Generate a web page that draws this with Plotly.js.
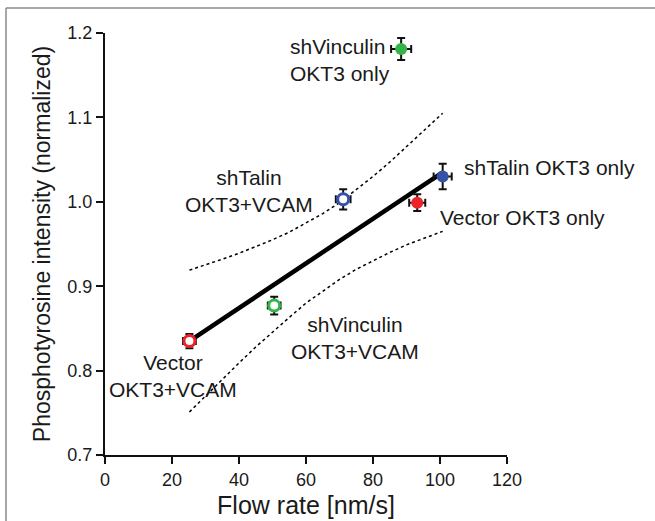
<!DOCTYPE html>
<html>
<head>
<meta charset="utf-8">
<script src="https://cdn.plot.ly/plotly-3.0.1.min.js"></script>
<style>html,body{margin:0;padding:0;background:#fff;}#chart{width:655px;height:521px;}</style>
</head>
<body>
<div id="chart"></div>
<script>
// Data points
const labels = ["shVinculin OKT3 only", "shTalin OKT3 only", "Vector OKT3 only", "shTalin OKT3+VCAM", "shVinculin OKT3+VCAM", "Vector OKT3+VCAM"];
const labelText = ["shVinculin<br>OKT3 only", "shTalin OKT3 only", "Vector OKT3 only", "shTalin<br>OKT3+VCAM", "shVinculin<br>OKT3+VCAM", "Vector<br>OKT3+VCAM"];
const flowRate = [88.4, 100.8, 93.2, 71.1, 50.5, 25.2];
const flowErr = [3.0, 2.7, 2.4, 2.2, 1.9, 1.9];
const intensity = [1.181, 1.030, 0.999, 1.003, 0.877, 0.835];
const intensityErr = [0.013, 0.015, 0.010, 0.012, 0.0105, 0.0085];
const pointColors = ["#33b54a", "#3552a8", "#ec2228", "#3552a8", "#33b54a", "#ec2228"];
const isOpen = [false, false, false, true, true, true];

// Regression line (end points)
const fitX = [25.2, 100.8];
const fitY = [0.835, 1.035];

// 95% confidence band
const bandX = [25.2, 30, 35, 40, 45, 50, 55, 60, 65, 70, 75, 80, 85, 90, 95, 100.8];
const bandUpper = [0.919, 0.925, 0.932, 0.939, 0.947, 0.955, 0.964, 0.975, 0.986, 0.999, 1.014, 1.030, 1.047, 1.065, 1.083, 1.105];
const bandLower = [0.751, 0.770, 0.790, 0.809, 0.828, 0.846, 0.863, 0.880, 0.894, 0.908, 0.920, 0.930, 0.940, 0.949, 0.956, 0.965];

const xTicks = [0, 20, 40, 60, 80, 100, 120];
const yTicks = [0.7, 0.8, 0.9, 1.0, 1.1, 1.2];

function pick(arr, open) { return arr.filter((v, i) => isOpen[i] === open); }

const traces = [
  {x: bandX, y: bandUpper, mode: 'lines', line: {color: '#000', width: 1.5, dash: 'dot'}, hoverinfo: 'skip', showlegend: false},
  {x: bandX, y: bandLower, mode: 'lines', line: {color: '#000', width: 1.5, dash: 'dot'}, hoverinfo: 'skip', showlegend: false},
  {x: fitX, y: fitY, mode: 'lines', line: {color: '#000', width: 4.5}, hoverinfo: 'skip', showlegend: false},
  {
    x: pick(flowRate, false), y: pick(intensity, false), text: pick(labels, false),
    mode: 'markers', type: 'scatter', showlegend: false,
    error_x: {type: 'data', array: pick(flowErr, false), color: '#111', thickness: 2, width: 4},
    error_y: {type: 'data', array: pick(intensityErr, false), color: '#111', thickness: 2, width: 4},
    marker: {symbol: 'circle', size: 12, color: pick(pointColors, false), line: {width: 0}}
  },
  {
    x: pick(flowRate, true), y: pick(intensity, true), text: pick(labels, true),
    mode: 'markers', type: 'scatter', showlegend: false,
    error_x: {type: 'data', array: pick(flowErr, true), color: '#111', thickness: 2, width: 4},
    error_y: {type: 'data', array: pick(intensityErr, true), color: '#111', thickness: 2, width: 4},
    marker: {symbol: 'circle', size: 11, color: '#fff', line: {width: 3, color: pick(pointColors, true)}}
  }
];

const annPos = [
  {x: 54.6, y: 1.168, xanchor: 'left', align: 'left'},
  {x: 106.6, y: 1.041, xanchor: 'left', align: 'left'},
  {x: 99.4, y: 0.981, xanchor: 'left', align: 'left'},
  {x: 43.0, y: 1.013, xanchor: 'center', align: 'center'},
  {x: 74.6, y: 0.839, xanchor: 'center', align: 'center'},
  {x: 20.3, y: 0.794, xanchor: 'center', align: 'center'}
];
const annotations = labelText.map((t, i) => Object.assign({
  text: t, showarrow: false, xref: 'x', yref: 'y', yanchor: 'middle',
  font: {size: 21, color: '#1a1a1a', family: 'Liberation Sans, Arial, sans-serif'}
}, annPos[i]));

function px2paperX(p) { return (p - 105) / 402; }
function px2paperY(p) { return (455 - p) / 422; }

const layout = {
  width: 655, height: 521,
  margin: {l: 105, r: 148, t: 33, b: 66},
  paper_bgcolor: '#fff', plot_bgcolor: '#fff',
  font: {family: 'Liberation Sans, Arial, sans-serif', color: '#1a1a1a'},
  xaxis: {
    range: [0, 120], tickvals: xTicks, ticktext: xTicks.map(String),
    showline: true, linecolor: '#111', linewidth: 2, ticks: 'outside', ticklen: 7, tickwidth: 2, tickcolor: '#111',
    showgrid: false, zeroline: false, tickfont: {size: 18},
    title: {text: 'Flow rate [nm/s]', font: {size: 25}, standoff: 8}
  },
  yaxis: {
    range: [0.7, 1.2], tickvals: yTicks, ticktext: yTicks.map(v => v.toFixed(1)),
    showline: true, linecolor: '#111', linewidth: 2, ticks: 'outside', ticklen: 7, tickwidth: 2, tickcolor: '#111',
    showgrid: false, zeroline: false, tickfont: {size: 18},
    title: {text: 'Phosphotyrosine intensity (normalized)', font: {size: 23}, standoff: 10}
  },
  annotations: annotations,
  shapes: [
    {type: 'line', xref: 'paper', yref: 'paper', x0: px2paperX(6), x1: px2paperX(660), y0: px2paperY(8), y1: px2paperY(8), line: {color: '#8a8a8a', width: 1.5}},
    {type: 'line', xref: 'paper', yref: 'paper', x0: px2paperX(6), x1: px2paperX(6), y0: px2paperY(8), y1: px2paperY(530), line: {color: '#8a8a8a', width: 1.5}}
  ],
  showlegend: false
};

Plotly.newPlot('chart', traces, layout, {displayModeBar: false, staticPlot: true});
</script>
</body>
</html>
